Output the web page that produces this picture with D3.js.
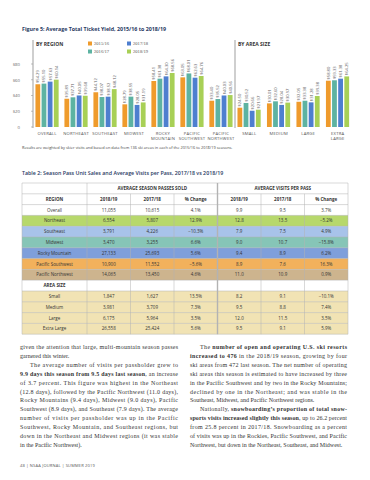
<!DOCTYPE html>
<html>
<head>
<meta charset="utf-8">
<script src="https://cdn.jsdelivr.net/npm/d3@7"></script>
<style>
  body { margin: 0; background: #fff; }
  svg { display: block; }
</style>
</head>
<body>
<div id="page"></div>
<script>
// chart categories + values (approx)
const regions = ['OVERALL', 'NORTHEAST', 'SOUTHEAST', 'MIDWEST', 'ROCKY MOUNTAIN', 'PACIFIC SOUTHWEST', 'PACIFIC NORTHWEST'];
const areaSizes = ['SMALL', 'MEDIUM', 'LARGE', 'EXTRA LARGE'];
const seasons = ['2015/16', '2016/17', '2017/18', '2018/19'];
const yTicks = [0, 20, 40, 60, 80];

// one array per season: regions first, then area sizes
const yield1516 = [54.29, 35.89, 44.12, 28.79, 58.41, 63.05, 33.40, 24.50, 30.01, 32.05, 58.80];
const yield1617 = [55.10, 37.71, 38.07, 38.55, 61.38, 68.01, 35.52, 30.52, 32.60, 33.38, 59.33];
const yield1718 = [57.63, 40.05, 38.52, 28.05, 64.30, 62.63, 40.03, 20.66, 28.04, 31.28, 61.38];
const yield1819 = [60.14, 39.68, 48.12, 31.19, 68.56, 64.76, 40.56, 21.97, 30.97, 39.38, 64.25];

// table 2
const tableRows = ['Overall', 'Northeast', 'Southeast', 'Midwest', 'Rocky Mountain', 'Pacific Southwest', 'Pacific Northwest', 'AREA SIZE', 'Small', 'Medium', 'Large', 'Extra Large'];
const passes1819 = ['11,055', '6,554', '3,791', '3,470', '27,133', '10,900', '14,065', '', '1,847', '3,981', '6,175', '26,558'];
const passes1718 = ['10,615', '5,807', '4,226', '3,255', '25,693', '11,552', '13,450', '', '1,627', '3,709', '5,964', '25,424'];
const passesChange = ['4.1%', '12.9%', '\u221210.3%', '6.6%', '5.6%', '\u22125.6%', '4.6%', '', '13.5%', '7.3%', '3.5%', '5.6%'];
const visits1819 = ['9.9', '12.8', '7.9', '9.0', '9.4', '8.9', '11.0', '', '8.2', '9.5', '12.0', '9.5'];
const visits1718 = ['9.5', '13.5', '7.5', '10.7', '8.9', '7.6', '10.9', '', '9.1', '8.8', '11.5', '9.1'];
const visitsChange = ['3.7%', '\u22125.2%', '4.9%', '\u221215.8%', '6.2%', '16.3%', '0.9%', '', '\u221210.1%', '7.4%', '3.5%', '5.9%'];

const size = { width: 370, height: 480 };
const sans = "'Open Sans', 'Noto Sans', sans-serif";
const serif = "'Liberation Serif', 'DejaVu Serif', serif";
const navy = '#28395f';

const svg = d3.select('#page').append('svg')
  .attr('width', size.width)
  .attr('height', size.height);

/*
  FIGURE 5
*/
const seriesColors = d3.scaleOrdinal()
  .domain(seasons)
  .range(['#ef9b2c', '#5db3a2', '#4e7fcf', '#a8d056']);

svg.append('text')
  .attr('x', 22).attr('y', 31)
  .attr('font-family', sans).attr('font-size', 5.3).attr('font-weight', 700)
  .attr('fill', navy)
  .text('Figure 5: Average Total Ticket Yield, 2015/16 to 2018/19');

const chart = { top: 64, bottom: 127, left: 33, split: 235, right: 351 };

const y = d3.scaleLinear().domain([0, 80]).range([chart.bottom, chart.top]);

const xRegion = d3.scaleBand().domain(regions)
  .range([chart.left + 1, chart.split - 1]).paddingInner(0.2).paddingOuter(0.05);
const xArea = d3.scaleBand().domain(areaSizes)
  .range([chart.split + 1, chart.right]).paddingInner(0.2).paddingOuter(0.05);

// panel rules (left axis + the divider between the two panels)
[chart.left, chart.split].forEach((px) => {
  svg.append('line')
    .attr('x1', px).attr('x2', px)
    .attr('y1', 40).attr('y2', chart.bottom + 1)
    .attr('stroke', '#777').attr('stroke-width', 0.7);
});

svg.append('text').attr('x', 36).attr('y', 46)
  .attr('font-family', sans).attr('font-size', 5).attr('font-weight', 700).attr('fill', '#333')
  .text('BY REGION');
svg.append('text').attr('x', 238).attr('y', 46)
  .attr('font-family', sans).attr('font-size', 5).attr('font-weight', 700).attr('fill', '#333')
  .text('BY AREA SIZE');

// legend, 2 x 2
const legend = svg.append('g');
seasons.forEach((s, i) => {
  const lx = 88 + Math.floor(i / 2) * 39;
  const ly = 41.5 + (i % 2) * 8;
  legend.append('rect').attr('x', lx).attr('y', ly).attr('width', 4).attr('height', 4)
    .attr('fill', seriesColors(s));
  legend.append('text').attr('x', lx + 6).attr('y', ly + 3.8)
    .attr('font-family', serif).attr('font-size', 4.6).attr('fill', '#555')
    .text(s);
});

// y axis labels
svg.append('g')
  .attr('transform', `translate(${chart.left - 13}, 0)`)
  .call(d3.axisLeft(y).tickValues(yTicks).tickSize(0).tickPadding(0)
    .tickFormat((d) => (d === 0 ? '0' : `$${d}`)))
  .call((g) => g.select('.domain').remove())
  .call((g) => g.selectAll('text')
    .attr('font-family', sans).attr('font-size', 4.3).attr('fill', '#666'));

svg.selectAll('.ytick').data(yTicks).join('line')
  .attr('x1', chart.left - 2).attr('x2', chart.left)
  .attr('y1', (d) => y(d)).attr('y2', (d) => y(d))
  .attr('stroke', '#999').attr('stroke-width', 0.6);

const allSeries = [yield1516, yield1617, yield1718, yield1819];
const categories = regions.concat(areaSizes);

const barData = [];
categories.forEach((c, ci) => {
  seasons.forEach((s, si) => {
    barData.push({ cat: c, season: s, value: allSeries[si][ci], area: ci >= regions.length });
  });
});

const xInner = d3.scaleBand().domain(seasons).range([0, xRegion.bandwidth()]).paddingInner(0.22);
const groupX = (d) => (d.area ? xArea(d.cat) : xRegion(d.cat));

const bars = svg.append('g').selectAll('g').data(barData).join('g');

bars.append('rect')
  .attr('x', (d) => groupX(d) + xInner(d.season))
  .attr('y', (d) => y(d.value))
  .attr('width', xInner.bandwidth())
  .attr('height', (d) => y(0) - y(d.value))
  .attr('fill', (d) => seriesColors(d.season));

// rotated value labels sitting on top of each bar
bars.append('text')
  .attr('transform', (d) => `translate(${groupX(d) + xInner(d.season) + xInner.bandwidth() / 2 + 1.5}, ${y(d.value) - 1.2}) rotate(-90)`)
  .attr('font-family', sans).attr('font-size', 4.1).attr('fill', '#5a5a5a')
  .text((d) => `$${d.value.toFixed(2)}`);

// category labels, split the long ones over two lines
const catLabel = (xs, cats) => {
  cats.forEach((c) => {
    const words = c.split(' ');
    const lines = words.length > 1 ? [words[0], words.slice(1).join(' ')] : [c];
    const t = svg.append('text')
      .attr('x', xs(c) + xs.bandwidth() / 2).attr('y', 135)
      .attr('text-anchor', 'middle')
      .attr('font-family', sans).attr('font-size', 4.2).attr('fill', '#555')
      .attr('letter-spacing', 0.2);
    lines.forEach((l, i) => {
      t.append('tspan').attr('x', xs(c) + xs.bandwidth() / 2).attr('dy', i ? 5.2 : 0).text(l);
    });
  });
};
catLabel(xRegion, regions);
catLabel(xArea, areaSizes);

svg.append('text').attr('x', 22).attr('y', 149)
  .attr('font-family', sans).attr('font-size', 3.9).attr('fill', '#444')
  .text('Results are weighted by skier visits and based on data from 136 ski areas in each of the 2015/16 to 2018/19 seasons.');

/*
  TABLE 2
*/
svg.append('text')
  .attr('x', 22).attr('y', 175)
  .attr('font-family', sans).attr('font-size', 5.3).attr('font-weight', 600)
  .attr('fill', navy)
  .text('Table 2: Season Pass Unit Sales and Average Visits per Pass, 2017/18 vs 2018/19');

const table = { top: 183, rowH: 10.8, left: 22, first: 87, right: 348 };
const rowFill = {
  Northeast: '#b7d86c',
  Southeast: '#a8c3ea',
  Midwest: '#86c5b7',
  'Rocky Mountain': '#7f9fdb',
  'Pacific Southwest': '#f2b15c',
  'Pacific Northwest': '#cdb48e',
  Small: '#f1e3b4',
  Medium: '#f1e3b4',
  Large: '#f1e3b4',
  'Extra Large': '#f1e3b4',
};

const colX = d3.scaleBand().domain(d3.range(6)).range([table.first, table.right]);
const rowY = d3.scaleBand().domain(d3.range(tableRows.length + 2))
  .range([table.top, table.top + table.rowH * (tableRows.length + 2)]);

const cols = [passes1819, passes1718, passesChange, visits1819, visits1718, visitsChange];
const subHeads = ['2018/19', '2017/18', '% Change', '2018/19', '2017/18', '% Change'];

const tg = svg.append('g');

tableRows.forEach((r, i) => {
  tg.append('rect')
    .attr('x', table.left).attr('y', rowY(i + 2))
    .attr('width', table.right - table.left).attr('height', rowY.bandwidth())
    .attr('fill', rowFill[r] || '#fff');
});

// horizontal rules
d3.range(tableRows.length + 3).forEach((i) => {
  const yy = i < tableRows.length + 2 ? rowY(i) : rowY.range()[1];
  tg.append('line')
    .attr('x1', table.left).attr('x2', table.right)
    .attr('y1', yy).attr('y2', yy)
    .attr('stroke', '#b3b3b3').attr('stroke-width', 0.5);
});

// vertical rules; the first header row only splits at the group boundary
const bottomY = rowY.range()[1];
[table.left, table.first, table.right].forEach((px) => {
  tg.append('line').attr('x1', px).attr('x2', px).attr('y1', table.top).attr('y2', bottomY)
    .attr('stroke', '#b3b3b3').attr('stroke-width', 0.5);
});
d3.range(1, 6).forEach((ci) => {
  const px = colX(ci);
  tg.append('line').attr('x1', px).attr('x2', px)
    .attr('y1', ci === 3 ? table.top : rowY(1)).attr('y2', bottomY)
    .attr('stroke', '#b3b3b3').attr('stroke-width', ci === 3 ? 1.4 : 0.5);
});

const cellText = (x, yy, txt, bold) => tg.append('text')
  .attr('x', x).attr('y', yy + rowY.bandwidth() / 2 + 1.6)
  .attr('text-anchor', 'middle')
  .attr('font-family', sans).attr('font-size', 4.5)
  .attr('font-weight', bold ? 700 : 400)
  .attr('fill', '#333')
  .text(txt);

cellText((colX(0) + colX(3)) / 2, rowY(0), 'AVERAGE SEASON PASSES SOLD', true);
cellText((colX(3) + table.right) / 2, rowY(0), 'AVERAGE VISITS PER PASS', true);
cellText((table.left + table.first) / 2, rowY(1), 'REGION', true);
subHeads.forEach((h, ci) => cellText(colX(ci) + colX.bandwidth() / 2, rowY(1), h, true));

tableRows.forEach((r, i) => {
  cellText((table.left + table.first) / 2, rowY(i + 2), r, r === 'AREA SIZE');
  cols.forEach((col, ci) => {
    if (col[i]) cellText(colX(ci) + colX.bandwidth() / 2, rowY(i + 2), col[i], false);
  });
});

/*
  BODY TEXT, two justified columns
*/
const body = { top: 349, lineH: 8.9, fontSize: 6 };

// [text segments, indent?, justify?]  -- segment starting with * is bold
const leftCol = [
  [['given the attention that large, multi-mountain season passes'], false, true],
  [['garnered this winter.'], false, false],
  [['The average number of visits per passholder grew to'], true, true],
  [['*9.9 days this season from 9.5 days last season', ', an increase'], false, true],
  [['of 3.7 percent. This figure was highest in the Northeast'], false, true],
  [['(12.8 days), followed by the Pacific Northwest (11.0 days),'], false, true],
  [['Rocky Mountains (9.4 days), Midwest (9.0 days), Pacific'], false, true],
  [['Southwest (8.9 days), and Southeast (7.9 days). The average'], false, true],
  [['number of visits per passholder was up in the Pacific'], false, true],
  [['Southwest, Rocky Mountain, and Southeast regions, but'], false, true],
  [['down in the Northeast and Midwest regions (it was stable'], false, true],
  [['in the Pacific Northwest).'], false, false],
];
const rightCol = [
  [['The ', '*number of open and operating U.S. ski resorts'], true, true],
  [['*increased to 476', ' in the 2018/19 season, growing by four'], false, true],
  [['ski areas from 472 last season. The net number of operating'], false, true],
  [['ski areas this season is estimated to have increased by three'], false, true],
  [['in the Pacific Southwest and by two in the Rocky Mountains;'], false, true],
  [['declined by one in the Northeast; and was stable in the'], false, true],
  [['Southeast, Midwest, and Pacific Northwest regions.'], false, false],
  [['Nationally, ', '*snowboarding\u2019s proportion of total snow-'], true, true],
  [['*sports visits increased slightly this season', ', up to 26.2 percent'], false, true],
  [['from 25.8 percent in 2017/18. Snowboarding as a percent'], false, true],
  [['of visits was up in the Rockies, Pacific Southwest, and Pacific'], false, true],
  [['Northwest, but down in the Northeast, Southeast, and Midwest.'], false, false],
];

const drawColumn = (lines, x0, width) => {
  lines.forEach(([segs, indent, justify], i) => {
    const lx = x0 + (indent ? 10 : 0);
    const t = svg.append('text')
      .attr('x', lx).attr('y', body.top + i * body.lineH)
      .attr('font-family', serif).attr('font-size', body.fontSize).attr('fill', '#333');
    segs.forEach((s) => {
      const bold = s.startsWith('*');
      t.append('tspan').attr('font-weight', bold ? 700 : 400).text(bold ? s.slice(1) : s);
    });
    if (justify) {
      t.attr('textLength', width - (indent ? 10 : 0)).attr('lengthAdjust', 'spacing');
    }
  });
};
drawColumn(leftCol, 20, 158);
drawColumn(rightCol, 190, 157);

svg.append('text').attr('x', 20).attr('y', 467)
  .attr('font-family', sans).attr('font-size', 4).attr('fill', '#555')
  .attr('letter-spacing', 0.2)
  .text('48  |  NSAA JOURNAL  |  SUMMER 2019');
</script>
</body>
</html>
